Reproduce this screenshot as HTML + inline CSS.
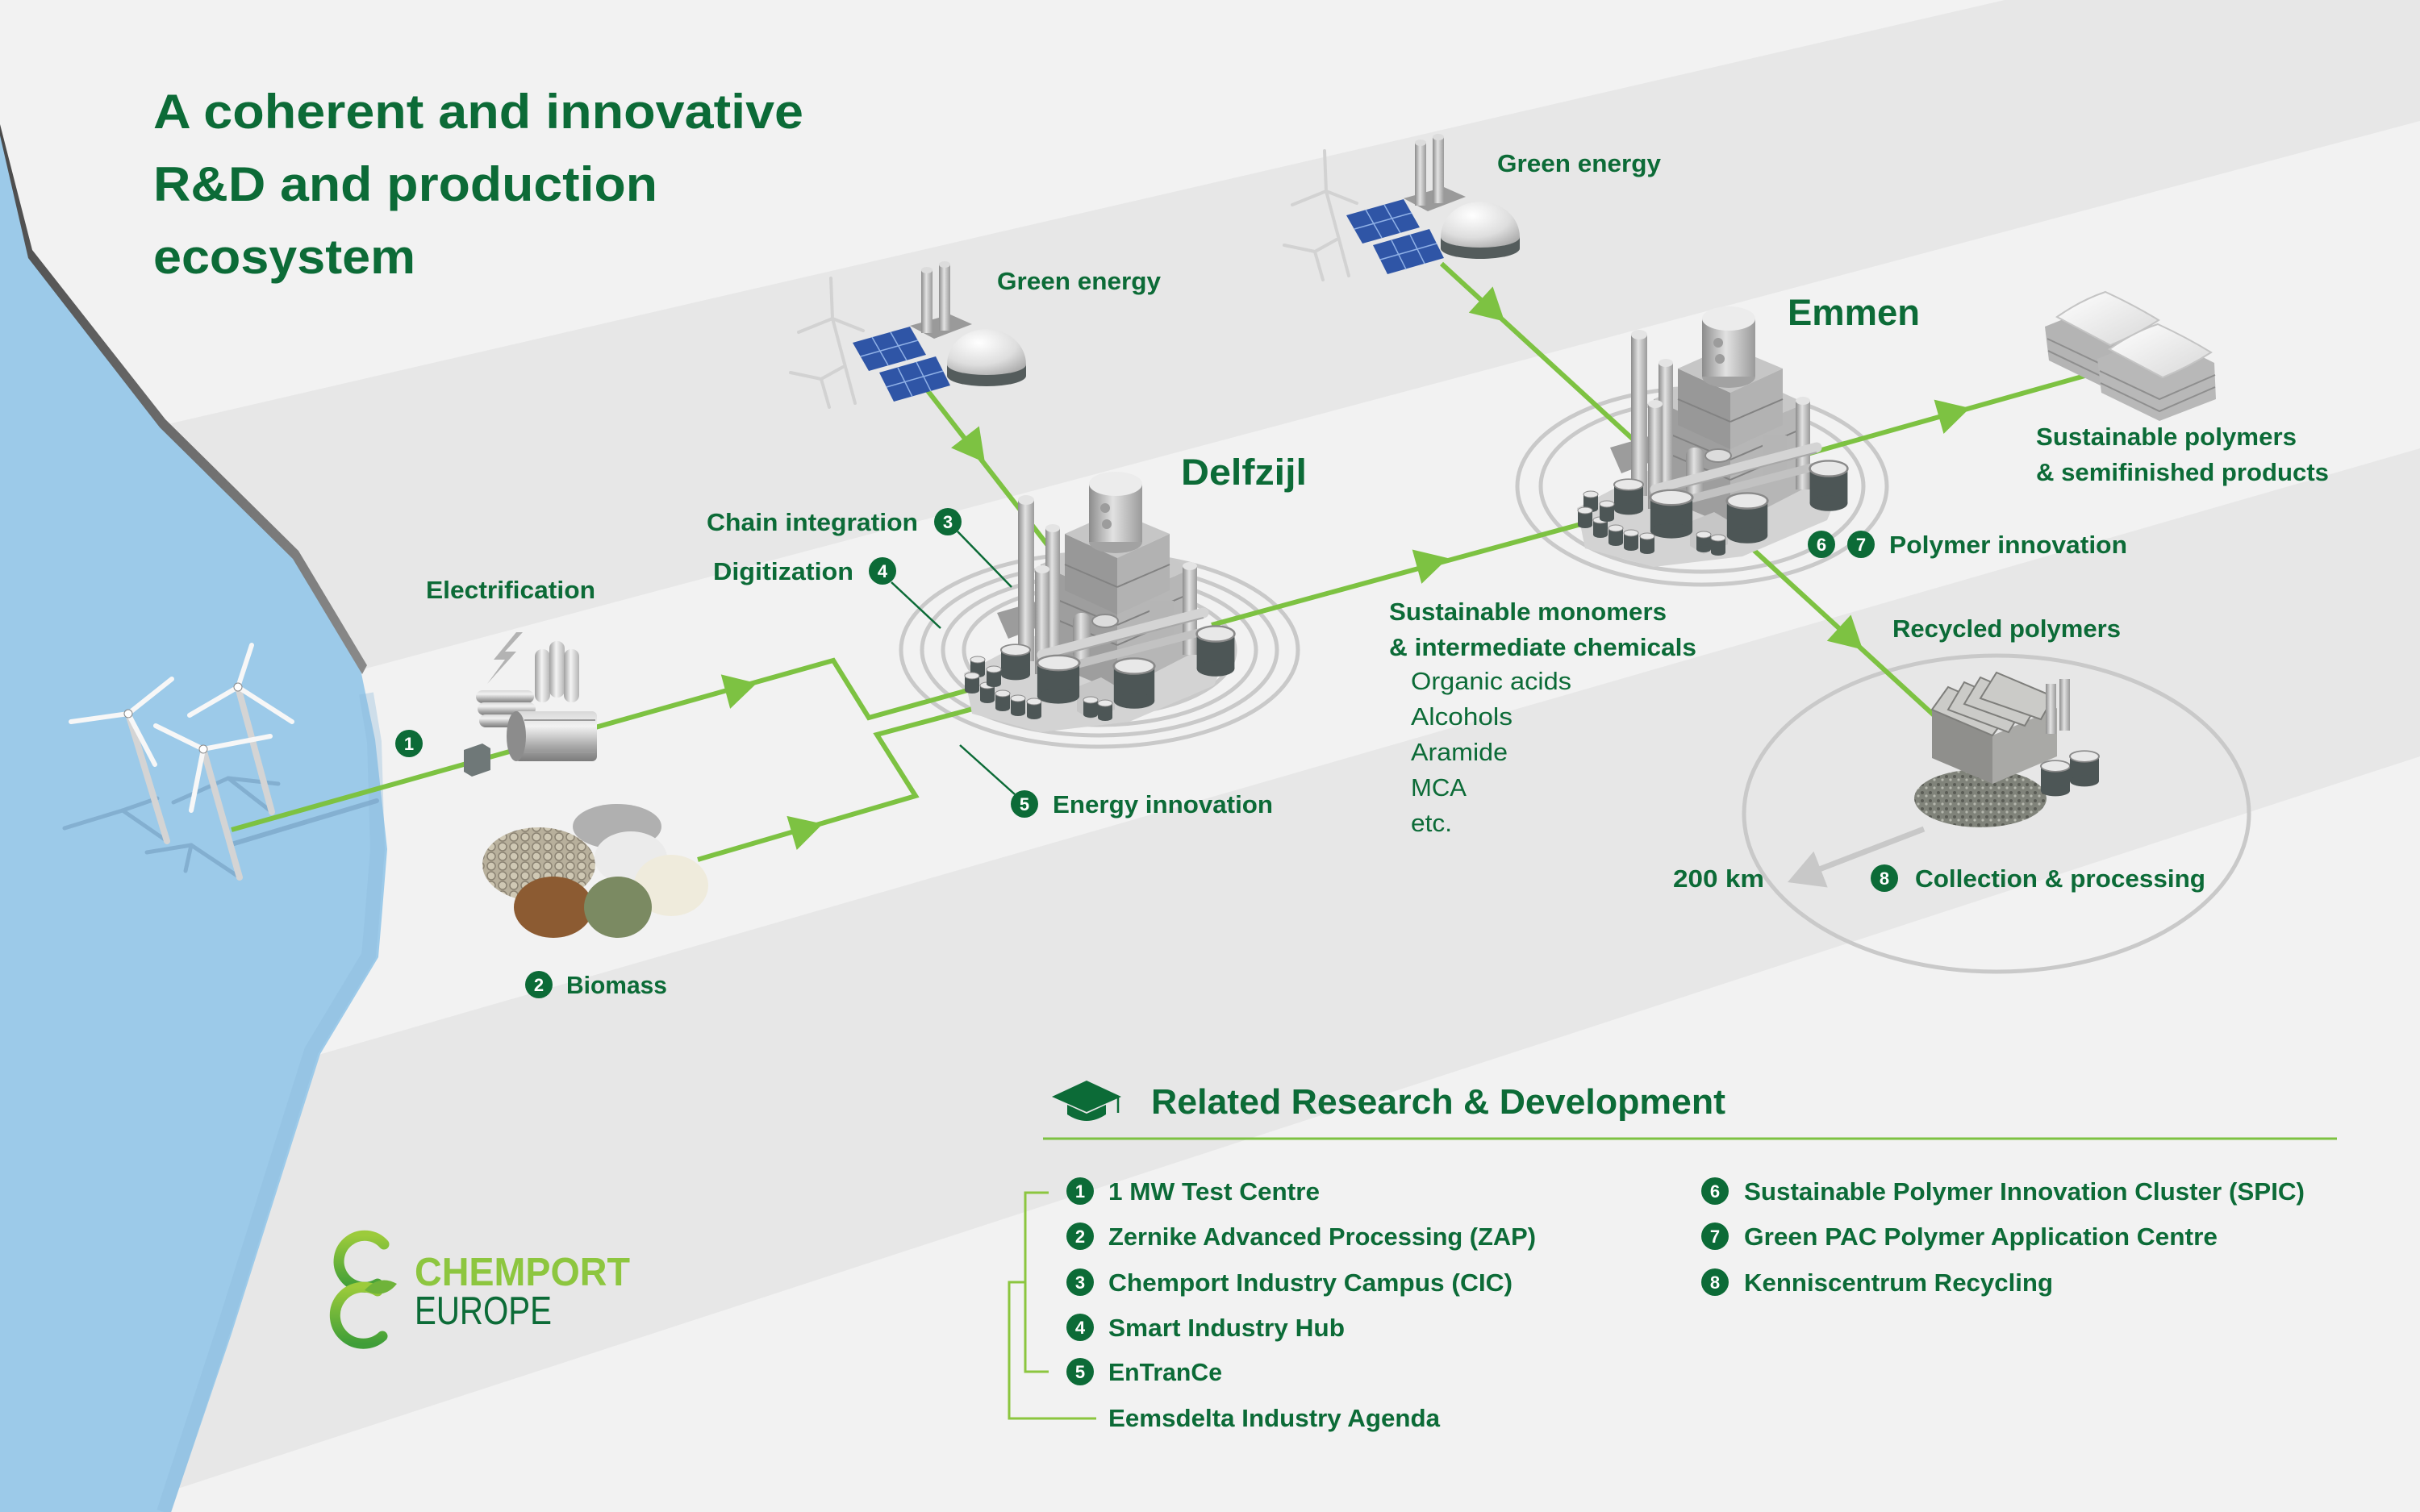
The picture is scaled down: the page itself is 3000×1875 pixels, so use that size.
<!DOCTYPE html>
<html><head><meta charset="utf-8">
<style>
html,body{margin:0;padding:0;background:#f2f2f2}
svg{display:block}
text{font-family:"Liberation Sans",Arial,sans-serif}
</style></head><body>
<svg xmlns="http://www.w3.org/2000/svg" xmlns:xlink="http://www.w3.org/1999/xlink" width="3000" height="1875" viewBox="0 0 3000 1875">
<defs>
  <linearGradient id="cyl" x1="0" y1="0" x2="1" y2="0">
    <stop offset="0" stop-color="#8c8c8c"/><stop offset="0.45" stop-color="#e2e2e2"/><stop offset="1" stop-color="#9a9a9a"/>
  </linearGradient>
  <linearGradient id="cylw" x1="0" y1="0" x2="1" y2="0">
    <stop offset="0" stop-color="#a0a0a0"/><stop offset="0.45" stop-color="#f4f4f4"/><stop offset="1" stop-color="#b4b4b4"/>
  </linearGradient>
  <linearGradient id="drum" x1="0" y1="0" x2="0" y2="1">
    <stop offset="0" stop-color="#d8d8d8"/><stop offset="0.3" stop-color="#f2f2f2"/><stop offset="0.7" stop-color="#a8a8a8"/><stop offset="1" stop-color="#7c7c7c"/>
  </linearGradient>
  <radialGradient id="domeg" cx="0.4" cy="0.3" r="0.8">
    <stop offset="0" stop-color="#ffffff"/><stop offset="0.6" stop-color="#dedede"/><stop offset="1" stop-color="#a9a9a9"/>
  </radialGradient>
  <linearGradient id="cliffg" x1="0" y1="0" x2="1" y2="1">
    <stop offset="0" stop-color="#4a4a4a"/><stop offset="1" stop-color="#8a8a8a"/>
  </linearGradient>
  <linearGradient id="logog" x1="0" y1="0" x2="0" y2="1">
    <stop offset="0" stop-color="#9ccb3b"/><stop offset="1" stop-color="#3f9e38"/>
  </linearGradient>
  <linearGradient id="pillow" x1="0" y1="0" x2="1" y2="1">
    <stop offset="0" stop-color="#ffffff"/><stop offset="1" stop-color="#d8d8d8"/>
  </linearGradient>
  <pattern id="pellet" width="14" height="12" patternUnits="userSpaceOnUse">
    <rect width="14" height="12" fill="#b8b09c"/>
    <circle cx="7" cy="6" r="5" fill="#cfc8b4" stroke="#8a8272" stroke-width="1.5"/>
  </pattern>
  <pattern id="gravel" width="10" height="10" patternUnits="userSpaceOnUse">
    <rect width="10" height="10" fill="#80837a"/>
    <circle cx="3" cy="3" r="2" fill="#5a5c55"/><circle cx="8" cy="7" r="1.6" fill="#b5b8ae"/>
  </pattern>

  <g id="st">
    <rect x="-9" y="0" width="18" height="18" fill="#4d5656"/>
    <ellipse cx="0" cy="18" rx="9" ry="4" fill="#4d5656"/>
    <ellipse cx="0" cy="0" rx="9" ry="4" fill="#e8e8e8" stroke="#8a8a8a" stroke-width="1"/>
  </g>

  <g id="ge">
    <g stroke="#d2d2d2" stroke-width="4" stroke-linecap="round" fill="none">
      <line x1="1032" y1="395" x2="1060" y2="500"/>
      <line x1="1032" y1="395" x2="1030" y2="345"/>
      <line x1="1032" y1="395" x2="990" y2="412"/>
      <line x1="1032" y1="395" x2="1070" y2="410"/>
      <line x1="1018" y1="470" x2="1028" y2="505"/>
      <line x1="1018" y1="470" x2="980" y2="462"/>
      <line x1="1018" y1="470" x2="1045" y2="455"/>
    </g>
    <polygon points="1128,404 1178,390 1205,402 1158,420" fill="#9a9a9a"/>
    <rect x="1142" y="335" width="14" height="78" fill="url(#cyl)"/>
    <ellipse cx="1149" cy="335" rx="7" ry="4" fill="#dcdcdc"/>
    <rect x="1164" y="328" width="14" height="82" fill="url(#cyl)"/>
    <ellipse cx="1171" cy="328" rx="7" ry="4" fill="#dcdcdc"/>
    <polygon points="1057,425 1128,405 1148,440 1077,460" fill="#2f55a6"/>
    <polygon points="1090,462 1160,442 1178,478 1108,498" fill="#2f55a6"/>
    <g stroke="#8fb0e6" stroke-width="1.5">
      <line x1="1067" y1="442" x2="1138" y2="422"/>
      <line x1="1081" y1="418" x2="1101" y2="453"/>
      <line x1="1104" y1="412" x2="1124" y2="447"/>
      <line x1="1099" y1="480" x2="1169" y2="460"/>
      <line x1="1113" y1="456" x2="1131" y2="492"/>
      <line x1="1136" y1="449" x2="1154" y2="485"/>
    </g>
    <rect x="1174" y="452" width="98" height="14" fill="#545c5c"/>
    <ellipse cx="1223" cy="466" rx="49" ry="13" fill="#545c5c"/>
    <path d="M1174,452 A49,44 0 0 1 1272,452 A49,13 0 0 1 1174,452 Z" fill="url(#domeg)"/>
  </g>

  <g id="plant">
    <polygon points="1195,835 1290,785 1395,765 1530,790 1505,850 1400,895 1290,908 1205,885" fill="#d3d3d3"/>
    <polygon points="1236,760 1298,742 1312,768 1250,792" fill="#9c9c9c"/>
    <polygon points="1290,700 1385,745 1385,858 1290,818" fill="#9e9e9e"/>
    <polygon points="1385,745 1478,705 1478,810 1385,858" fill="#b6b6b6"/>
    <polygon points="1290,700 1380,660 1478,705 1385,745" fill="#c8c8c8"/>
    <polygon points="1320,662 1385,692 1385,762 1320,732" fill="#989898"/>
    <polygon points="1385,692 1450,662 1450,732 1385,762" fill="#b2b2b2"/>
    <polygon points="1320,662 1383,634 1450,662 1385,692" fill="#c6c6c6"/>
    <g stroke="#828282" stroke-width="2">
      <line x1="1320" y1="700" x2="1385" y2="728"/><line x1="1385" y1="728" x2="1450" y2="700"/>
      <line x1="1290" y1="760" x2="1385" y2="800"/><line x1="1385" y1="800" x2="1478" y2="760"/>
      <line x1="1290" y1="735" x2="1385" y2="775"/><line x1="1385" y1="775" x2="1478" y2="735"/>
    </g>
    <ellipse cx="1383" cy="672" rx="33" ry="14" fill="#a2a2a2"/>
    <rect x="1350" y="600" width="66" height="72" fill="url(#cyl)"/>
    <ellipse cx="1383" cy="600" rx="33" ry="15" fill="#ececec"/>
    <circle cx="1370" cy="630" r="6" fill="#9c9c9c"/>
    <circle cx="1372" cy="650" r="6" fill="#9c9c9c"/>
    <rect x="1262" y="620" width="20" height="200" fill="url(#cyl)"/>
    <ellipse cx="1272" cy="620" rx="10" ry="6" fill="#e4e4e4"/>
    <rect x="1296" y="655" width="18" height="170" fill="url(#cyl)"/>
    <ellipse cx="1305" cy="655" rx="9" ry="5" fill="#e4e4e4"/>
    <rect x="1283" y="706" width="18" height="130" fill="url(#cyl)"/>
    <ellipse cx="1292" cy="706" rx="9" ry="5" fill="#e4e4e4"/>
    <rect x="1466" y="702" width="18" height="110" fill="url(#cyl)"/>
    <ellipse cx="1475" cy="702" rx="9" ry="5" fill="#e4e4e4"/>
    <rect x="1425" y="745" width="30" height="50" fill="#b5b5b5"/>
    <rect x="1330" y="760" width="22" height="60" rx="10" fill="url(#cyl)"/>
    <ellipse cx="1370" cy="770" rx="16" ry="8" fill="#dcdcdc" stroke="#8a8a8a" stroke-width="2"/>
    <path d="M1292,812 L1492,760" stroke="#d4d4d4" stroke-width="13" stroke-linecap="round"/>
    <path d="M1292,818 L1492,766" stroke="#a8a8a8" stroke-width="2"/>
    <path d="M1296,834 L1492,783" stroke="#c2c2c2" stroke-width="10" stroke-linecap="round"/>
    <polygon points="1335,852 1365,840 1382,850 1382,880 1352,892 1335,882" fill="#c6c6c6"/>
    <use href="#st" transform="translate(1259,806) scale(2,1.7)"/>
    <use href="#st" transform="translate(1312,822) scale(2.9,2.3)"/>
    <use href="#st" transform="translate(1406,826) scale(2.8,2.4)"/>
    <use href="#st" transform="translate(1507,786) scale(2.6,2.4)"/>
    <use href="#st" x="1212" y="818"/>
    <use href="#st" x="1205" y="838"/>
    <use href="#st" x="1224" y="850"/>
    <use href="#st" x="1243" y="860"/>
    <use href="#st" x="1262" y="866"/>
    <use href="#st" x="1282" y="870"/>
    <use href="#st" x="1232" y="830"/>
    <use href="#st" x="1352" y="868"/>
    <use href="#st" x="1370" y="872"/>
  </g>
</defs>

<rect width="3000" height="1875" fill="#f2f2f2"/>
<polygon points="0,574 2485,0 3000,0 3000,150 0,950" fill="#e7e7e7"/>
<polygon points="0,1422 3000,556 3000,938 0,1918" fill="#e7e7e7"/>

<polygon points="0,162 38,318 201,528 364,690 447,830 450,845 465,917 480,1053 473,1140 469,1187 397,1307 287,1654 212,1875 0,1875" fill="#9ccae9"/>
<polyline points="454,860 464,920 468,1053 461,1140 457,1185 386,1303 276,1652 203,1875" fill="none" stroke="#8cbbdc" stroke-width="18" opacity="0.35"/>
<polygon points="0,154 40,310 205,520 370,683 455,825 449,836 363,693 198,530 35,320 0,168" fill="url(#cliffg)"/>

<g stroke="#7ea9cb" stroke-width="5" stroke-linecap="round" fill="none" opacity="0.8">
  <line x1="207" y1="1043" x2="152" y2="1005"/><line x1="152" y1="1005" x2="80" y2="1027"/><line x1="152" y1="1005" x2="195" y2="990"/>
  <line x1="337" y1="1007" x2="283" y2="965"/><line x1="283" y1="965" x2="215" y2="995"/><line x1="283" y1="965" x2="345" y2="972"/>
  <line x1="297" y1="1088" x2="237" y2="1048"/><line x1="237" y1="1048" x2="182" y2="1057"/><line x1="237" y1="1048" x2="230" y2="1080"/>
  <line x1="287" y1="1047" x2="467" y2="993" stroke-width="6"/>
</g>

<g fill="none" stroke="#c9c9c9" stroke-width="5">
  <ellipse cx="1363" cy="806" rx="246" ry="120"/>
  <ellipse cx="1363" cy="806" rx="220" ry="106"/>
  <ellipse cx="1363" cy="806" rx="194" ry="93"/>
  <ellipse cx="1363" cy="806" rx="168" ry="80"/>
  <ellipse cx="2110" cy="603" rx="229" ry="122"/>
  <ellipse cx="2110" cy="603" rx="200" ry="106"/>
  <ellipse cx="2475" cy="1009" rx="313" ry="196"/>
</g>

<g fill="none" stroke="#7dc242" stroke-width="6" stroke-linejoin="miter">
  <polyline points="287,1029 1033,819 1077,890 1250,842"/>
  <polyline points="865,1066 1135,987 1087,911 1262,864"/>
  <line x1="1148" y1="482" x2="1301" y2="679"/>
  <line x1="1502" y1="775" x2="1971" y2="647"/>
  <line x1="1787" y1="327" x2="2404" y2="893"/>
  <line x1="2237" y1="564" x2="2620" y2="456"/>
</g>
<g fill="#7dc242">
  <polygon points="26,0 -14,22 -14,-22" transform="translate(913,854) rotate(-15)"/>
  <polygon points="26,0 -14,22 -14,-22" transform="translate(995,1029) rotate(-16.3)"/>
  <polygon points="26,0 -14,22 -14,-22" transform="translate(1205,553) rotate(52.2)"/>
  <polygon points="26,0 -14,22 -14,-22" transform="translate(1770,699) rotate(-15.3)"/>
  <polygon points="26,0 -14,22 -14,-22" transform="translate(1846,381) rotate(42.5)"/>
  <polygon points="26,0 -14,22 -14,-22" transform="translate(2290,788) rotate(42.5)"/>
  <polygon points="26,0 -14,22 -14,-22" transform="translate(2417,513) rotate(-15.7)"/>
</g>

<line x1="2385" y1="1028" x2="2245" y2="1082" stroke="#c8c8c8" stroke-width="7"/>
<polygon points="0,0 -44,24 -44,-24" fill="#c8c8c8" transform="translate(2216,1094) rotate(158.9)"/>

<g stroke-linecap="round" fill="none">
  <g stroke="#d4d4d4" stroke-width="8">
    <line x1="159" y1="885" x2="207" y2="1043"/>
    <line x1="295" y1="852" x2="337" y2="1007"/>
    <line x1="252" y1="929" x2="297" y2="1088"/>
  </g>
  <g stroke="#f7f7f7" stroke-width="6">
    <line x1="159" y1="885" x2="88" y2="895"/><line x1="159" y1="885" x2="213" y2="842"/><line x1="159" y1="885" x2="192" y2="948"/>
    <line x1="295" y1="852" x2="235" y2="887"/><line x1="295" y1="852" x2="312" y2="800"/><line x1="295" y1="852" x2="362" y2="895"/>
    <line x1="252" y1="929" x2="193" y2="900"/><line x1="252" y1="929" x2="335" y2="913"/><line x1="252" y1="929" x2="237" y2="1005"/>
  </g>
</g>
<circle cx="159" cy="885" r="5" fill="#fff" stroke="#888"/>
<circle cx="295" cy="852" r="5" fill="#fff" stroke="#888"/>
<circle cx="252" cy="929" r="5" fill="#fff" stroke="#888"/>

<polygon points="640,784 612,818 626,818 604,848 640,808 626,808 648,784" fill="#b3b3b3"/>
<polygon points="575,930 598,922 608,928 608,955 585,963 575,957" fill="#6f7878"/>
<rect x="590" y="856" width="72" height="16" rx="8" fill="url(#drum)"/>
<rect x="592" y="871" width="72" height="16" rx="8" fill="url(#drum)"/>
<rect x="594" y="886" width="72" height="16" rx="8" fill="url(#drum)"/>
<rect x="663" y="805" width="19" height="66" rx="9" fill="url(#cylw)"/>
<rect x="681" y="795" width="19" height="70" rx="9" fill="url(#cylw)"/>
<rect x="699" y="805" width="19" height="66" rx="9" fill="url(#cylw)"/>
<rect x="638" y="882" width="102" height="62" rx="6" fill="url(#drum)"/>
<ellipse cx="640" cy="913" rx="12" ry="31" fill="#8c8c8c"/>
<g stroke="#9a9a9a" stroke-width="2"><line x1="650" y1="893" x2="738" y2="893"/><line x1="650" y1="933" x2="738" y2="933"/></g>

<ellipse cx="765" cy="1025" rx="55" ry="28" fill="#b0b0b0"/>
<ellipse cx="668" cy="1072" rx="70" ry="46" fill="url(#pellet)"/>
<ellipse cx="782" cy="1064" rx="45" ry="33" fill="#ebebeb"/>
<ellipse cx="832" cy="1098" rx="46" ry="38" fill="#efebdc"/>
<ellipse cx="686" cy="1125" rx="49" ry="38" fill="#8c5b32"/>
<ellipse cx="766" cy="1125" rx="42" ry="38" fill="#7b8a62"/>

<use href="#ge"/>
<use href="#ge" transform="translate(612,-158)"/>

<use href="#plant"/>
<use href="#plant" transform="translate(760,-205)"/>

<!-- sacks -->
<g>
  <polygon points="2535,405 2610,375 2680,410 2682,455 2612,482 2540,447" fill="#b4b4b4"/>
  <g stroke="#8e8e8e" stroke-width="2" fill="none"><polyline points="2538,420 2612,455 2681,425"/><polyline points="2539,435 2612,470 2681,440"/></g>
  <path d="M2550,393 Q2580,372 2610,362 Q2645,378 2676,397 Q2648,415 2616,428 Q2582,410 2550,393 Z" fill="url(#pillow)" stroke="#c4c4c4" stroke-width="2"/>
  <polygon points="2600,445 2675,415 2745,450 2747,495 2677,522 2605,487" fill="#b8b8b8"/>
  <g stroke="#8e8e8e" stroke-width="2" fill="none"><polyline points="2603,460 2677,495 2746,465"/><polyline points="2604,475 2677,510 2746,480"/></g>
  <path d="M2615,433 Q2645,412 2675,402 Q2710,418 2741,437 Q2713,455 2681,468 Q2647,450 2615,433 Z" fill="url(#pillow)" stroke="#c4c4c4" stroke-width="2"/>
</g>

<!-- recycling plant -->
<ellipse cx="2455" cy="990" rx="82" ry="36" fill="url(#gravel)"/>
<polygon points="2395,880 2470,912 2470,972 2395,940" fill="#8f8f8c"/>
<polygon points="2470,912 2550,878 2550,938 2470,972" fill="#a9a9a6"/>
<g fill="#cbcbc8" stroke="#7e7e7b" stroke-width="2">
  <polygon points="2395,880 2415,852 2490,885 2470,912"/>
  <polygon points="2415,880 2435,846 2508,878 2490,908"/>
  <polygon points="2435,873 2455,840 2527,871 2510,900"/>
  <polygon points="2455,866 2475,834 2546,864 2530,892"/>
</g>
<rect x="2536" y="848" width="13" height="62" fill="url(#cyl)"/>
<rect x="2553" y="842" width="13" height="64" fill="url(#cyl)"/>
<use href="#st" transform="translate(2548,950) scale(2,1.7)"/>
<use href="#st" transform="translate(2584,938) scale(2,1.7)"/>

<g stroke="#0c6b37" stroke-width="2.5">
  <line x1="1187" y1="659" x2="1254" y2="728"/>
  <line x1="1105" y1="722" x2="1166" y2="779"/>
  <line x1="1258" y1="985" x2="1190" y2="924"/>
</g>

<g fill="#0c6b37" font-weight="bold">
  <text x="190" y="159" font-size="60" textLength="806" lengthAdjust="spacingAndGlyphs">A coherent and innovative</text>
  <text x="190" y="249" font-size="60" textLength="625" lengthAdjust="spacingAndGlyphs">R&amp;D and production</text>
  <text x="190" y="339" font-size="60" textLength="325" lengthAdjust="spacingAndGlyphs">ecosystem</text>

  <text x="1464" y="601" font-size="45" textLength="156" lengthAdjust="spacingAndGlyphs">Delfzijl</text>
  <text x="2216" y="403" font-size="45" textLength="164" lengthAdjust="spacingAndGlyphs">Emmen</text>

  <text x="1236" y="359" font-size="31" textLength="203" lengthAdjust="spacingAndGlyphs">Green energy</text>
  <text x="1856" y="213" font-size="31" textLength="203" lengthAdjust="spacingAndGlyphs">Green energy</text>
  <text x="876" y="658" font-size="31" textLength="262" lengthAdjust="spacingAndGlyphs">Chain integration</text>
  <text x="884" y="719" font-size="31" textLength="174" lengthAdjust="spacingAndGlyphs">Digitization</text>
  <text x="528" y="742" font-size="31" textLength="210" lengthAdjust="spacingAndGlyphs">Electrification</text>
  <text x="1305" y="1008" font-size="31" textLength="273" lengthAdjust="spacingAndGlyphs">Energy innovation</text>
  <text x="702" y="1232" font-size="31" textLength="125" lengthAdjust="spacingAndGlyphs">Biomass</text>
  <text x="1722" y="769" font-size="31" textLength="344" lengthAdjust="spacingAndGlyphs">Sustainable monomers</text>
  <text x="1722" y="813" font-size="31" textLength="381" lengthAdjust="spacingAndGlyphs">&amp; intermediate chemicals</text>
  <text x="2524" y="552" font-size="31" textLength="323" lengthAdjust="spacingAndGlyphs">Sustainable polymers</text>
  <text x="2524" y="596" font-size="31" textLength="363" lengthAdjust="spacingAndGlyphs">&amp; semifinished products</text>
  <text x="2342" y="686" font-size="31" textLength="295" lengthAdjust="spacingAndGlyphs">Polymer innovation</text>
  <text x="2346" y="790" font-size="31" textLength="283" lengthAdjust="spacingAndGlyphs">Recycled polymers</text>
  <text x="2074" y="1100" font-size="31" textLength="113" lengthAdjust="spacingAndGlyphs">200 km</text>
  <text x="2374" y="1100" font-size="31" textLength="360" lengthAdjust="spacingAndGlyphs">Collection &amp; processing</text>

  <text x="1427" y="1381" font-size="44" textLength="712" lengthAdjust="spacingAndGlyphs">Related Research &amp; Development</text>

  <text x="1374" y="1488" font-size="31" textLength="262" lengthAdjust="spacingAndGlyphs">1 MW Test Centre</text>
  <text x="1374" y="1544" font-size="31" textLength="530" lengthAdjust="spacingAndGlyphs">Zernike Advanced Processing (ZAP)</text>
  <text x="1374" y="1601" font-size="31" textLength="501" lengthAdjust="spacingAndGlyphs">Chemport Industry Campus (CIC)</text>
  <text x="1374" y="1657" font-size="31" textLength="293" lengthAdjust="spacingAndGlyphs">Smart Industry Hub</text>
  <text x="1374" y="1712" font-size="31" textLength="141" lengthAdjust="spacingAndGlyphs">EnTranCe</text>
  <text x="1374" y="1769" font-size="31" textLength="411" lengthAdjust="spacingAndGlyphs">Eemsdelta Industry Agenda</text>
  <text x="2162" y="1488" font-size="31" textLength="695" lengthAdjust="spacingAndGlyphs">Sustainable Polymer Innovation Cluster (SPIC)</text>
  <text x="2162" y="1544" font-size="31" textLength="587" lengthAdjust="spacingAndGlyphs">Green PAC Polymer Application Centre</text>
  <text x="2162" y="1601" font-size="31" textLength="383" lengthAdjust="spacingAndGlyphs">Kenniscentrum Recycling</text>
</g>
<g fill="#0c6b37" font-weight="normal" font-size="31">
  <text x="1749" y="855" textLength="199" lengthAdjust="spacingAndGlyphs">Organic acids</text>
  <text x="1749" y="899" textLength="126" lengthAdjust="spacingAndGlyphs">Alcohols</text>
  <text x="1749" y="943" textLength="120" lengthAdjust="spacingAndGlyphs">Aramide</text>
  <text x="1749" y="987" textLength="69" lengthAdjust="spacingAndGlyphs">MCA</text>
  <text x="1749" y="1031" textLength="51" lengthAdjust="spacingAndGlyphs">etc.</text>
</g>

<g fill="#0c6b37">
  <circle cx="507" cy="922" r="17"/>
  <circle cx="668" cy="1221" r="17"/>
  <circle cx="1175" cy="647" r="17"/>
  <circle cx="1094" cy="708" r="17"/>
  <circle cx="1270" cy="997" r="17"/>
  <circle cx="2258" cy="675" r="17"/>
  <circle cx="2307" cy="675" r="17"/>
  <circle cx="2336" cy="1089" r="17"/>
  <circle cx="1339" cy="1477" r="17"/>
  <circle cx="1339" cy="1533" r="17"/>
  <circle cx="1339" cy="1590" r="17"/>
  <circle cx="1339" cy="1646" r="17"/>
  <circle cx="1339" cy="1701" r="17"/>
  <circle cx="2126" cy="1477" r="17"/>
  <circle cx="2126" cy="1533" r="17"/>
  <circle cx="2126" cy="1590" r="17"/>
</g>
<g fill="#ffffff" font-weight="bold" font-size="22" text-anchor="middle">
  <text x="507" y="930">1</text>
  <text x="668" y="1229">2</text>
  <text x="1175" y="655">3</text>
  <text x="1094" y="716">4</text>
  <text x="1270" y="1005">5</text>
  <text x="2258" y="683">6</text>
  <text x="2307" y="683">7</text>
  <text x="2336" y="1097">8</text>
  <text x="1339" y="1485">1</text>
  <text x="1339" y="1541">2</text>
  <text x="1339" y="1598">3</text>
  <text x="1339" y="1654">4</text>
  <text x="1339" y="1709">5</text>
  <text x="2126" y="1485">6</text>
  <text x="2126" y="1541">7</text>
  <text x="2126" y="1598">8</text>
</g>

<polygon points="1347,1340 1390,1360 1347,1379 1304,1360" fill="#0c6b37"/>
<path d="M1323,1370 L1347,1381 L1371,1370 L1371,1382 Q1347,1398 1323,1382 Z" fill="#0c6b37"/>
<line x1="1386" y1="1361" x2="1386" y2="1380" stroke="#0c6b37" stroke-width="2.5"/>
<line x1="1293" y1="1412" x2="2897" y2="1412" stroke="#7dc242" stroke-width="3"/>
<g fill="none" stroke="#8cc63f" stroke-width="3">
  <polyline points="1300,1479 1271,1479 1271,1701 1300,1701"/>
  <polyline points="1271,1590 1251,1590 1251,1759 1359,1759"/>
</g>

<g fill="none" stroke="url(#logog)" stroke-linecap="round">
  <path d="M476,1543 A32,32 0 1 0 468,1592" stroke-width="13"/>
  <path d="M468,1601 A35,35 0 1 0 474,1657" stroke-width="13"/>
</g>
<path d="M452,1600 Q470,1580 492,1592 Q476,1612 452,1600 Z" fill="#6fb33a"/>
<text x="514" y="1594" font-size="49" font-weight="bold" fill="#8dc63f" textLength="267" lengthAdjust="spacingAndGlyphs">CHEMPORT</text>
<text x="514" y="1642" font-size="49" fill="#0c6b37" textLength="170" lengthAdjust="spacingAndGlyphs">EUROPE</text>
</svg>
</body></html>
